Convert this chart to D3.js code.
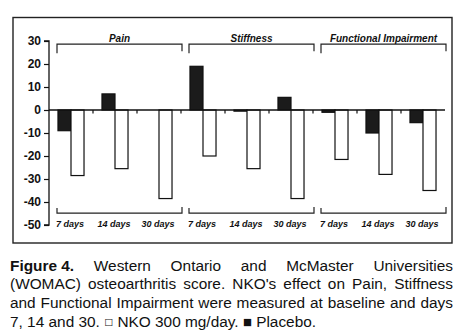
<!DOCTYPE html>
<html>
<head>
<meta charset="utf-8">
<script src="https://cdn.jsdelivr.net/npm/d3@7"></script>
<style>
  html, body { margin: 0; padding: 0; background: #fff; }
  svg { display: block; }
</style>
</head>
<body>
<svg id="chart" width="464" height="332"></svg>
<script>
// WOMAC score change per measure and time point
const groups = ["Pain", "Stiffness", "Functional Impairment"];
const days = ["7 days", "14 days", "30 days"];
const placebo = [-9, 7, 0, 19, -0.5, 5.5, -1, -10, -5.5];
const nko = [-28.5, -25.5, -38.5, -20, -25.5, -38.5, -21.5, -28, -35];
const yTicks = [30, 20, 10, 0, -10, -20, -30, -40, -50];
const captionLines = [
  [{t: "Figure 4.", b: true}, {t: " Western Ontario and McMaster Universities"}],
  [{t: "(WOMAC) osteoarthritis score. NKO's effect on Pain, Stiffness"}],
  [{t: "and Functional Impairment were measured at baseline and days"}],
  [{t: "7, 14 and 30. "}, {t: "\u25A1", sym: true}, {t: " NKO 300 mg/day. "}, {t: "\u25A0", sym: true}, {t: " Placebo."}]
];

const svg = d3.select("#chart");
const font = "'Liberation Sans', Arial, Helvetica, sans-serif";

// category keys: one per group/time point
const cats = [];
groups.forEach((g, gi) => days.forEach((d, di) => cats.push({key: g + "|" + d, group: g, day: d, i: gi * 3 + di})));

const x0 = d3.scaleBand().domain(cats.map(c => c.key)).range([49, 445]).padding(0);
const x1 = d3.scaleBand().domain(["placebo", "nko"]).range([0, x0.bandwidth()]).paddingInner(0).paddingOuter(0.69);
const y = d3.scaleLinear().domain([-50, 30]).range([225, 41]);

// outer frame
svg.append("rect")
  .attr("x", 13).attr("y", 17.5).attr("width", 439).attr("height", 225.5)
  .attr("fill", "none").attr("stroke", "#222").attr("stroke-width", 1.4);

// y axis
const yAxis = d3.axisLeft(y).tickValues(yTicks).tickSize(5).tickPadding(3).tickFormat(d3.format("d"));
const gy = svg.append("g").attr("transform", "translate(49,0)").call(yAxis);
gy.select(".domain").attr("stroke", "#111").attr("stroke-width", 1.3).attr("d", `M-5,${y(30)}H0V${y(-50)}H-5`);
gy.selectAll(".tick line").attr("stroke", "#111").attr("stroke-width", 1.2);
gy.selectAll(".tick text")
  .attr("font-family", font).attr("font-size", 12).attr("font-weight", "bold").attr("fill", "#111")
  .text(d => d < 0 ? "-" + Math.abs(d) : d);

// bars
const barG = svg.append("g");
cats.forEach(c => {
  const vals = [{k: "placebo", v: placebo[c.i]}, {k: "nko", v: nko[c.i]}];
  barG.selectAll(null).data(vals).enter().append("rect")
    .attr("x", d => x0(c.key) + x1(d.k))
    .attr("y", d => y(Math.max(0, d.v)))
    .attr("width", x1.bandwidth())
    .attr("height", d => Math.abs(y(d.v) - y(0)))
    .attr("fill", d => d.k === "placebo" ? "#1b1b1b" : "#fff")
    .attr("stroke", "#111").attr("stroke-width", 1.2);
});

// zero line with category boundary ticks
svg.append("line")
  .attr("x1", 49).attr("x2", x0.range()[1]).attr("y1", y(0)).attr("y2", y(0))
  .attr("stroke", "#111").attr("stroke-width", 1.3);
cats.slice(1).forEach(c => {
  svg.append("line")
    .attr("x1", x0(c.key)).attr("x2", x0(c.key))
    .attr("y1", y(0)).attr("y2", y(0) + 3.5)
    .attr("stroke", "#111").attr("stroke-width", 1.2);
});

// group brackets above and below the bars, with labels
groups.forEach((g, gi) => {
  const first = x0(cats[gi * 3].key) + 8;
  const last = x0(cats[gi * 3 + 2].key) + x0.bandwidth() + 1;
  const mid = (first + last) / 2;
  const topY = y(28.6), botY = y(-44.8);
  svg.append("path")
    .attr("d", `M${first},${topY + 9}V${topY}H${last}V${topY + 7}`)
    .attr("fill", "none").attr("stroke", "#222").attr("stroke-width", 1.2);
  svg.append("text")
    .attr("x", mid).attr("y", topY - 2)
    .attr("text-anchor", "middle")
    .attr("font-family", font).attr("font-size", 10).attr("font-weight", "bold").attr("font-style", "italic")
    .attr("fill", "#111").text(g);
  svg.append("path")
    .attr("d", `M${first},${botY - 5}V${botY}H${last}V${botY - 6}`)
    .attr("fill", "none").attr("stroke", "#222").attr("stroke-width", 1.2);
});

// time point labels
svg.selectAll(".day").data(cats).enter().append("text")
  .attr("class", "day")
  .attr("x", c => x0(c.key) + x0.bandwidth() / 2 - 1)
  .attr("y", 226.5)
  .attr("text-anchor", "middle")
  .attr("font-family", font).attr("font-size", 9).attr("font-weight", "bold").attr("font-style", "italic")
  .attr("fill", "#111").text(c => c.day);

// justified caption
const capLeft = 10, capRight = 453;
const baselines = [270.5, 289.2, 307.9, 326.5];
captionLines.forEach((line, li) => {
  const t = svg.append("text")
    .attr("x", capLeft).attr("y", baselines[li])
    .attr("font-family", font).attr("font-size", 15.4).attr("fill", "#111");
  let lift = 0;
  line.forEach(seg => {
    const ts = t.append("tspan").attr("font-weight", seg.b ? "bold" : "normal").text(seg.t);
    if (seg.b) ts.attr("word-spacing", 0);
    if (seg.sym) {
      ts.attr("font-size", 9.5).attr("dy", -1.5).attr("font-family", "'DejaVu Sans', sans-serif");
      lift = 1.5;
    } else if (lift) {
      ts.attr("dy", lift);
      lift = 0;
    }
  });
  if (li < captionLines.length - 1) {
    const natural = t.node().getComputedTextLength();
    const spaces = line.filter(s => !s.b).map(s => s.t).join("").split(" ").length - 1;
    const ws = (capRight - capLeft - natural) / spaces;
    t.attr("word-spacing", ws);
  }
});
</script>
</body>
</html>
